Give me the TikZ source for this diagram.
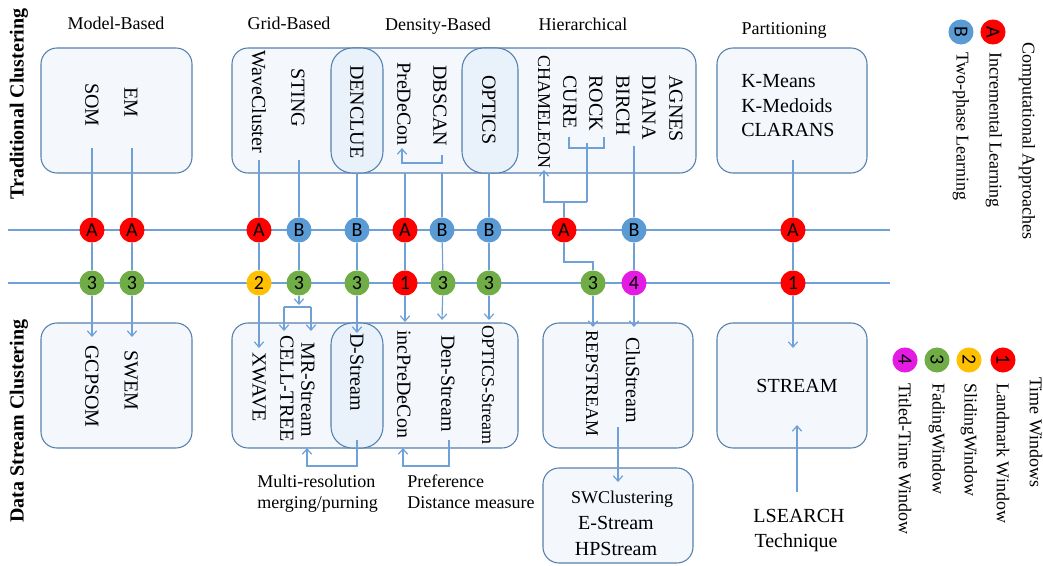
\documentclass[tikz,border=0pt]{standalone}
\usepackage{fontspec}
\setmainfont{Liberation Serif}
\newfontfamily\circfont{Carlito}
\usetikzlibrary{arrows.meta}
\definecolor{lineblue}{HTML}{6FA0D8}
\definecolor{boxedge}{HTML}{5580AD}
\definecolor{boxfill}{HTML}{F4F8FD}
\definecolor{innerfill}{HTML}{E9F1FA}
\definecolor{cred}{HTML}{FF0000}
\definecolor{cblue}{HTML}{5B9BD5}
\definecolor{cgreen}{HTML}{70AD47}
\definecolor{cyellow}{HTML}{FFC000}
\definecolor{cmag}{HTML}{E31BE3}
\tikzset{
  conn/.style={draw=lineblue, line width=0.9pt},
  arr/.style={conn, -{Straight Barb[length=4pt,width=7pt]}},
  outerbox/.style={draw=boxedge, fill=boxfill, line width=0.8pt, rounded corners=12pt},
  innerbox/.style={draw=boxedge, fill=innerfill, line width=0.8pt, rounded corners=16pt},
  vt/.style={rotate=-90, anchor=west, font=\fontsize{15}{15}\selectfont, inner sep=0pt},
  vts/.style={rotate=-90, anchor=west, font=\fontsize{13.5}{13.5}\selectfont, inner sep=0pt},
  ht/.style={anchor=base, font=\fontsize{15}{15}\selectfont, inner sep=0pt},
  hs/.style={anchor=base, font=\fontsize{13.5}{13.5}\selectfont, inner sep=0pt},
  side/.style={rotate=90, font=\bfseries\fontsize{15}{15}\selectfont, inner sep=0pt},
  badge/.style={circle, minimum size=18.8pt, inner sep=0pt, font=\circfont\fontsize{15}{15}\selectfont},
  bA/.style={badge, fill=cred},
  bB/.style={badge, fill=cblue},
  bone/.style={badge, fill=cred},
  btwo/.style={badge, fill=cyellow},
  bthree/.style={badge, fill=cgreen},
  bfour/.style={badge, fill=cmag},
}
\begin{document}
\begin{tikzpicture}[x=0.75pt,y=-0.75pt]
\useasboundingbox (0,0) rectangle (1043,565);
% ---------- boxes ----------
\draw[outerbox] (41,48) rectangle (192,173);
\draw[outerbox] (232,48) rectangle (696,173);
\draw[innerbox] (331,48) rectangle (383,173);
\draw[innerbox] (462,48) rectangle (518,173);
\draw[outerbox] (717,48) rectangle (867,173);
\draw[outerbox] (41,323) rectangle (192,448);
\draw[outerbox] (232,323) rectangle (518,448);
\draw[innerbox] (331,323) rectangle (383,448);
\draw[outerbox] (543,323) rectangle (693,448);
\draw[outerbox] (717,323) rectangle (867,448);
\draw[outerbox] (543,468) rectangle (693,563);
% ---------- horizontal lines ----------
\coordinate (h1L) at (8,230); \coordinate (h1R) at (890,230);
\coordinate (h2L) at (8,283); \coordinate (h2R) at (890,283);
\draw[conn] (h1L) -- (h1R);
\draw[conn] (h2L) -- (h2R);
% ---------- headers ----------
\node[hs] (hmodel) at (116,29) {Model-Based};
\node[hs] (hgrid) at (289,29) {Grid-Based};
\node[hs] (hdens) at (438,30) {Density-Based};
\node[hs] (hhier) at (583,30) {Hierarchical};
\node[hs] (hpart) at (784,34) {Partitioning};
\node[side] (trad) at (19,104) {Traditional Clustering};
\node[side] (dsc) at (19,421) {Data Stream Clustering};
% ---------- top texts ----------
\node[vt] (som) at (92,83) {SOM};
\node[vt] (em) at (131,87) {EM};
\node[vt] (wave) at (259,50) {WaveCluster};
\node[vt] (sting) at (298,68) {STING};
\node[vt] (denclue) at (357,65) {DENCLUE};
\node[vt] (predecon) at (404,62) {PreDeCon};
\node[vt] (dbscan) at (440,65) {DBSCAN};
\node[vt] (optics) at (489,75) {OPTICS};
\node[vts] (cham) at (544,55) {CHAMELEON};
\node[vt] (cure) at (570,75) {CURE};
\node[vt] (rock) at (596,75) {ROCK};
\node[vt] (birch) at (623,75) {BIRCH};
\node[vt] (diana) at (649,75) {DIANA};
\node[vt] (agnes) at (676,75) {AGNES};
\node[ht, anchor=base west] (kmeans) at (741,87) {K-Means};
\node[ht, anchor=base west] (kmed) at (741,112) {K-Medoids};
\node[ht, anchor=base west] (clarans) at (741,136) {CLARANS};
% ---------- bottom texts ----------
\node[vt] (gcpsom) at (92,345) {GCPSOM};
\node[vt] (swem) at (131,350) {SWEM};
\node[vt] (xwave) at (259,352) {XWAVE};
\node[vt] (celltree) at (287,335) {CELL-TREE};
\node[vt] (mrstream) at (308,342) {MR-Stream};
\node[vt] (dstream) at (357,333) {D-Stream};
\node[vt] (incpre) at (404,330) {incPreDeCon};
\node[vt] (denstream) at (448,335) {Den-Stream};
\node[vts] (opticss) at (488,325) {OPTICS-Stream};
\node[vts] (repstream) at (592,330) {REPSTREAM};
\node[vt] (clustream) at (633,337) {CluStream};
\node[ht] (stream) at (797,392) {STREAM};
\node[ht] (lsearch) at (799,522) {LSEARCH};
\node[ht] (tech) at (796,547) {Technique};
\node[hs] (swclust) at (622,503) {SWClustering};
\node[ht] (estream) at (616,529) {E-Stream};
\node[ht] (hpstream) at (616,555) {HPStream};
\node[hs, anchor=base west] (multi) at (257,487) {Multi-resolution};
\node[hs, anchor=base west] (merging) at (257,508) {merging/purning};
\node[hs, anchor=base west] (pref) at (407,487) {Preference};
\node[hs, anchor=base west] (dist) at (407,508) {Distance measure};
% ---------- legends ----------
\node[vts] (compapp) at (1027,42) {Computational Approaches};
\node[bA, rotate=-90] (legA) at (993,32) {A};
\node[vts] (incl) at (994,52) {Incremental Learning};
\node[bB, rotate=-90] (legB) at (961,32) {B};
\node[vts] (twop) at (961,52) {Two-phase Learning};
\node[vts] (timew) at (1036,377) {Time Windows};
\node[bone, rotate=-90] (leg1) at (1003,360) {1};
\node[vts] (landm) at (1003,383) {Landmark Window};
\node[btwo, rotate=-90] (leg2) at (969,360) {2};
\node[vts] (slid) at (969,383) {SlidingWindow};
\node[bthree, rotate=-90] (leg3) at (937,360) {3};
\node[vts] (fad) at (937,383) {FadingWindow};
\node[bfour, rotate=-90] (leg4) at (905,360) {4};
\node[vts] (tilt) at (905,383) {Titled-Time Window};
% ---------- circles ----------
\node[bA] (a1) at (92,230) {A};     \node[bthree] (g1) at (92,283) {3};
\node[bA] (a2) at (132,230) {A};    \node[bthree] (g2) at (132,283) {3};
\node[bA] (a3) at (259,230) {A};    \node[btwo] (y3) at (259,283) {2};
\node[bB] (b4) at (299,230) {B};    \node[bthree] (g4) at (299,283) {3};
\node[bB] (b5) at (357,230) {B};    \node[bthree] (g5) at (357,283) {3};
\node[bA] (a6) at (405,230) {A};    \node[bone] (r6) at (405,283) {1};
\node[bB] (b7) at (442,230) {B};    \node[bthree] (g7) at (443,283) {3};
\node[bB] (b8) at (489,230) {B};    \node[bthree] (g8) at (489,283) {3};
\node[bA] (a9) at (564,230) {A};    \node[bthree] (g9) at (593,283) {3};
\node[bB] (b10) at (634,230) {B};   \node[bfour] (m10) at (634,283) {4};
\node[bA] (a11) at (793,230) {A};   \node[bone] (r11) at (793,283) {1};
% ---------- connectors ----------
% col 1
\coordinate (t1) at (92,148); \coordinate (e1) at (92,337);
\draw[conn] (t1) -- (a1); \draw[conn] (a1) -- (g1); \draw[arr] (g1) -- (e1);
% col 2
\coordinate (t2) at (132,148); \coordinate (e2) at (132,337);
\draw[conn] (t2) -- (a2); \draw[conn] (a2) -- (g2); \draw[arr] (g2) -- (e2);
% col 3
\coordinate (t3) at (259,160); \coordinate (e3) at (259,348);
\draw[conn] (t3) -- (a3); \draw[conn] (a3) -- (y3); \draw[arr] (y3) -- (e3);
% col 4 (STING)
\coordinate (t4) at (299,160); \coordinate (e4) at (299,305);
\coordinate (sbL) at (284,307); \coordinate (sbR) at (311,307);
\coordinate (ctTop) at (284,331); \coordinate (mrTop) at (311,331);
\draw[conn] (t4) -- (b4); \draw[conn] (b4) -- (g4); \draw[arr] (g4) -- (e4);
\draw[conn] (sbL) -- (sbR);
\draw[arr] (sbL) -- (ctTop); \draw[arr] (sbR) -- (mrTop);
% col 5 (DENCLUE)
\coordinate (t5) at (357,173); \coordinate (e5) at (357,333);
\draw[conn] (t5) -- (b5); \draw[conn] (b5) -- (g5); \draw[arr] (g5) -- (e5);
\coordinate (dsB) at (357,440); \coordinate (dsK) at (357,466);
\coordinate (mrK) at (307,466); \coordinate (mrB) at (307,448);
\draw[arr] (dsB) -- (dsK) -- (mrK) -- (mrB);
% col 6 (PreDeCon)
\coordinate (t6) at (405,173); \coordinate (e6) at (405,322);
\draw[conn] (t6) -- (a6); \draw[conn] (a6) -- (r6); \draw[arr] (r6) -- (e6);
\coordinate (dbB) at (442,155); \coordinate (dbK) at (442,163);
\coordinate (pdK) at (402,163); \coordinate (pdB) at (402,148);
\draw[arr] (dbB) -- (dbK) -- (pdK) -- (pdB);
% col 7 (DBSCAN)
\coordinate (t7) at (442,173); \coordinate (e7) at (442,320);
\draw[conn] (t7) -- (b7); \draw[conn] (b7) -- (g7); \draw[arr] (g7) -- (e7);
\coordinate (denB) at (449,440); \coordinate (denK) at (449,466);
\coordinate (ipK) at (403,466); \coordinate (ipB) at (403,448);
\draw[arr] (denB) -- (denK) -- (ipK) -- (ipB);
% col 8 (OPTICS)
\coordinate (t8) at (489,173); \coordinate (e8) at (489,320);
\draw[conn] (t8) -- (b8); \draw[conn] (b8) -- (g8); \draw[arr] (g8) -- (e8);
% col 9 (hierarchical)
\coordinate (brL1) at (569,137); \coordinate (brL2) at (569,148);
\coordinate (brR2) at (604,148); \coordinate (brR1) at (604,137);
\draw[conn] (brL1) -- (brL2) -- (brR2) -- (brR1);
\coordinate (brM) at (587,143); \coordinate (brK) at (587,202);
\coordinate (chK) at (544,202); \coordinate (chB) at (544,170);
\draw[conn] (brM) -- (brK);
\draw[arr] (brK) -- (chK) -- (chB);
\coordinate (aTop) at (564,202);
\draw[conn] (aTop) -- (a9);
\coordinate (aK1) at (564,262); \coordinate (aK2) at (593,262);
\draw[conn] (a9) -- (aK1) -- (aK2) -- (g9);
\coordinate (e9) at (593,327);
\draw[arr] (g9) -- (e9);
% col 10 (BIRCH)
\coordinate (t10) at (634,146); \coordinate (e10) at (634,327);
\draw[conn] (t10) -- (b10); \draw[conn] (b10) -- (m10); \draw[arr] (m10) -- (e10);
\coordinate (csB) at (618,427); \coordinate (swT) at (618,482);
\draw[arr] (csB) -- (swT);
% col 11 (partitioning)
\coordinate (t11) at (793,160); \coordinate (e11) at (793,348);
\draw[conn] (t11) -- (a11); \draw[conn] (a11) -- (r11); \draw[arr] (r11) -- (e11);
\coordinate (lsT) at (797,492); \coordinate (stB) at (797,425);
\draw[arr] (lsT) -- (stB);
\end{tikzpicture}
\end{document}
